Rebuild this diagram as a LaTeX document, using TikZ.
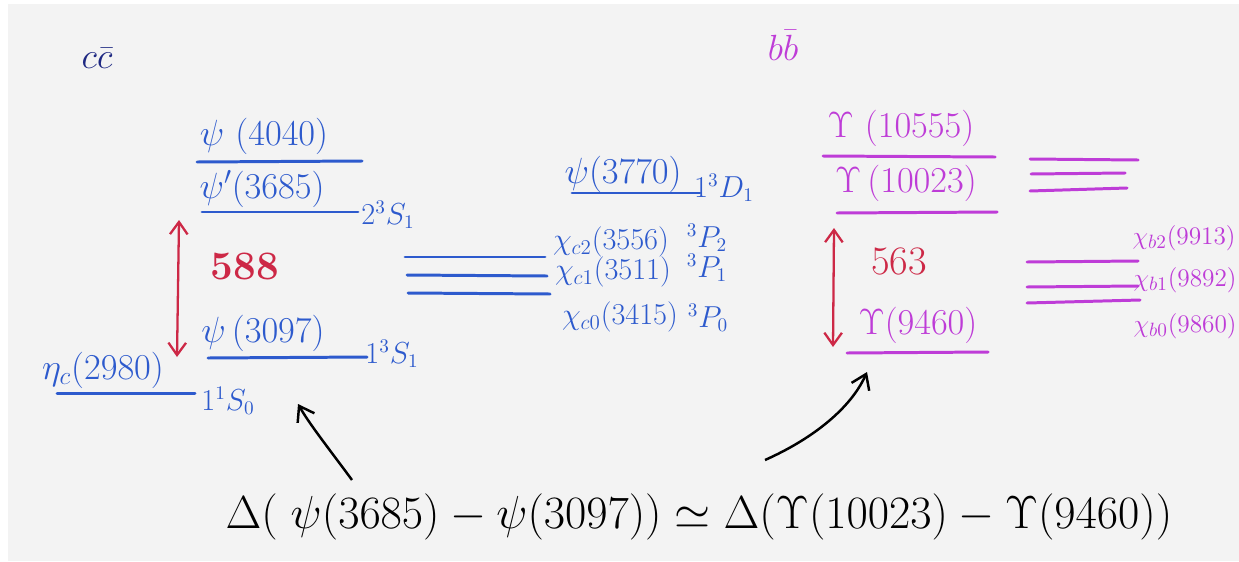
\documentclass[tikz,border=0pt]{standalone}
\usetikzlibrary{arrows.meta}
\definecolor{paper}{RGB}{243,243,243}
\definecolor{pblue}{RGB}{45,90,205}
\definecolor{navy}{RGB}{30,40,130}
\definecolor{pmag}{RGB}{190,60,215}
\definecolor{pred}{RGB}{205,40,70}
\begin{document}
\begin{tikzpicture}[x=0.02cm,y=-0.02cm,
  lvl/.style={line width=1.7pt, line cap=round},
  blvl/.style={lvl, draw=pblue},
  mlvl/.style={lvl, draw=pmag},
  lab/.style={inner sep=0pt, font=\fontsize{21}{24}\selectfont},
  blab/.style={lab, text=pblue},
  mlab/.style={lab, text=pmag},
  slab/.style={inner sep=0pt, text=pblue, font=\fontsize{16}{18}\selectfont},
  clab/.style={inner sep=0pt, text=pblue, font=\fontsize{17}{20}\selectfont},
  xlab/.style={inner sep=0pt, text=pmag, font=\fontsize{15}{18}\selectfont},
  gap/.style={inner sep=0pt, text=pred, font=\fontsize{23}{26}\selectfont\bfseries},
  redarrow/.style={draw=pred, line width=1.3pt, {Straight Barb[length=7pt,width=10pt]}-{Straight Barb[length=7pt,width=10pt]}},
  blackarrow/.style={draw=black, line width=1.4pt, -{Straight Barb[length=8pt,width=11pt]}}]

\useasboundingbox (0,0) rectangle (1239,561);
\fill[white] (0,0) rectangle (1239,561);
\fill[paper] (8,4) rectangle (1239,561);

% headings
\node[inner sep=0pt, text=navy, font=\fontsize{22}{24}\selectfont] (cc) at (97,58) {$c\bar{c}$};
\node[inner sep=0pt, text=pmag, font=\fontsize{22}{24}\selectfont] (bb) at (783,45) {$b\bar{b}$};

% charmonium levels
\node[blab] (t4040) at (264,136) {$\psi\ (4040)$};
\draw[blvl] (197,162) -- (362,161);
\node[blab] (t3685) at (262,189) {$\psi'(3685)$};
\draw[blvl] (202,212) -- (358,212);
\node[slab] (s2S) at (388,215) {$2^3S_1$};
\node[blab] (t3097) at (263,333) {$\psi\,(3097)$};
\draw[blvl] (208,358) -- (367,357);
\node[slab] (s1S) at (392,354) {$1^3S_1$};
\node[blab] (t2980) at (103,370) {$\eta_c(2980)$};
\draw[blvl] (57,393) -- (195,393);
\node[slab] (s1S0) at (228,401) {$1^1S_0$};

\coordinate (r1t) at (179,220);
\coordinate (r1b) at (177,357);
\draw[redarrow] (r1t) -- (r1b);
\node[gap] (g588) at (245,266) {588};

% chi_c levels
\draw[blvl] (405,257) -- (545,257);
\draw[blvl] (407,275) -- (547,276);
\draw[blvl] (408,293) -- (550,294);
\node[clab] (xc2) at (611,242) {$\chi_{c2}(3556)$};
\node[clab] (xc1) at (613,272) {$\chi_{c1}(3511)$};
\node[clab] (xc0) at (620,317) {$\chi_{c0}(3415)$};
\node[slab] (p2) at (707,238) {$^3P_2$};
\node[slab] (p1) at (707,268) {$^3P_1$};
\node[slab] (p0) at (708,318) {$^3P_0$};

\node[blab, anchor=east] (t3770) at (682,174) {$\psi(3770)$};
\draw[blvl] (572,193) -- (700,193);
\node[slab] (s1D) at (724,188) {$1^3D_1$};

% bottomonium levels
\node[mlab] (u10555) at (901,128) {$\Upsilon\ (10555)$};
\draw[mlvl] (823,156) -- (995,157);
\node[mlab] (u10023) at (906,183) {$\Upsilon\,(10023)$};
\draw[mlvl] (837,213) -- (997,212);
\draw[mlvl] (1030,159) -- (1138,160);
\draw[mlvl] (1031,174) -- (1125,173);
\draw[mlvl] (1030,191) -- (1127,188);

\coordinate (r2t) at (834,228);
\coordinate (r2b) at (833,347);
\draw[redarrow] (r2t) -- (r2b);
\node[gap, font=\fontsize{23}{26}\selectfont] (g563) at (899,261) {563};

\node[mlab] (u9460) at (918,325) {$\Upsilon(9460)$};
\draw[mlvl] (847,353) -- (988,352);

\draw[mlvl] (1027,262) -- (1138,261);
\draw[mlvl] (1027,287) -- (1138,286);
\draw[mlvl] (1027,303) -- (1140,300);
\node[xlab, anchor=east] (xb2) at (1236,238) {$\chi_{b2}(9913)$};
\node[xlab, anchor=east] (xb1) at (1237,280) {$\chi_{b1}(9892)$};
\node[xlab, anchor=east] (xb0) at (1237,326) {$\chi_{b0}(9860)$};

% equation
\node[inner sep=0pt, font=\Huge, scale=1.06] (eq) at (699,517)
  {$\Delta(\;\psi(3685)-\psi(3097))\simeq\Delta(\Upsilon(10023)-\Upsilon(9460))$};

\coordinate (a1s) at (352,480);
\coordinate (a1e) at (298,404);
\draw[blackarrow] (a1s) .. controls (330,450) and (310,425) .. (a1e);
\coordinate (a2s) at (765,460);
\coordinate (a2e) at (867,372);
\draw[blackarrow] (a2s) .. controls (810,440) and (850,410) .. (a2e);
\end{tikzpicture}
\end{document}
